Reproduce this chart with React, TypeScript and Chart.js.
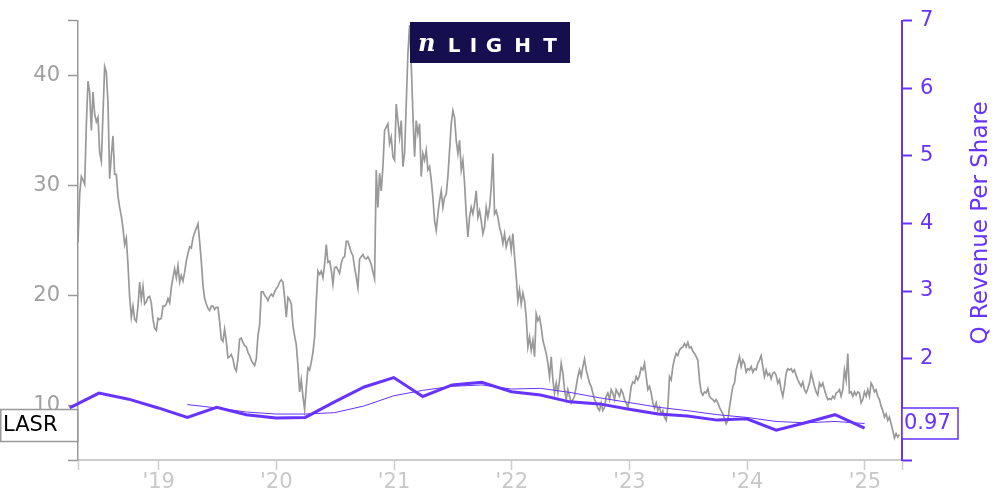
import { useEffect, useRef } from "react";
import { Chart, registerables } from "chart.js";

Chart.register(...registerables);

const FONT = "DejaVu Sans";
const PURPLE = "#6633ff";
const GRAY = "#999999";
const LIGHT = "#cccccc";

const TICKER = "LASR";
const LOGO_TEXT = "LIGHT";
const RIGHT_TITLE = "Q Revenue Per Share";

const X_START = "2018-04-26";
const X_END = "2025-04-26";
const YEAR_TICKS = [2019, 2020, 2021, 2022, 2023, 2024, 2025];
const PRICE_TICKS = [5, 10, 20, 30, 40, 45];
const REV_TICKS = [0.5, 1, 2, 3, 4, 5, 6, 7];

const revQuarters = [
  "2018-03-31", "2018-06-30", "2018-09-30", "2018-12-31",
  "2019-03-31", "2019-06-30", "2019-09-30", "2019-12-31",
  "2020-03-31", "2020-06-30", "2020-09-30", "2020-12-31",
  "2021-03-31", "2021-06-30", "2021-09-30", "2021-12-31",
  "2022-03-31", "2022-06-30", "2022-09-30", "2022-12-31",
  "2023-03-31", "2023-06-30", "2023-09-30", "2023-12-31",
  "2024-03-31", "2024-06-30", "2024-09-30", "2024-12-31",
];
const revPerShare = [
  1.27, 1.49, 1.40, 1.27, 1.13, 1.28, 1.17, 1.12,
  1.13, 1.36, 1.58, 1.72, 1.44, 1.61, 1.65, 1.51,
  1.46, 1.36, 1.33, 1.25, 1.18, 1.15, 1.09, 1.11,
  0.94, 1.05, 1.17, 0.97,
];
const revAvg4 = [
  null, null, null, null, 1.32, 1.27, 1.21, 1.18,
  1.18, 1.20, 1.30, 1.45, 1.53, 1.59, 1.61, 1.55,
  1.56, 1.50, 1.42, 1.35, 1.28, 1.23, 1.17, 1.13,
  1.07, 1.05, 1.07, 1.04,
];

const PRICE_START = "2018-04-26";
const PRICE_STEP_DAYS = 5.17;
const lasrPrice = [
  24.8, 29.2, 30.8, 30.5, 30.1, 35.5, 39.5, 38.5, 35, 38.5,
  36.5, 35.8, 36.2, 33, 32.2, 36.5, 40.8, 40.3, 37.5, 30.6,
  32.7, 34.5, 31, 31, 29, 28, 27.2, 26.1, 24.6, 25.2,
  22.8, 19.8, 18, 19, 17.8, 17.6, 19, 21.2, 19.6, 20.8,
  19.2, 19.4, 19.8, 19.9, 19.3, 17.8, 17, 16.8, 17.9, 17.8,
  17.9, 19, 19, 19.2, 19.7, 19.3, 20.7, 21.6, 22.4, 21.6,
  22.7, 21.2, 21.8, 21.3, 22.1, 23.1, 23.8, 24.4, 24.3, 25.2,
  25.7, 26.1, 26.5, 24.9, 23.1, 20.9, 19.7, 19.2, 18.8, 18.6,
  19.0, 19.0, 18.7, 18.9, 18.9, 17.6, 16.0, 15.8, 16.9, 15.8,
  14.3, 14.4, 14.6, 14.2, 13.4, 13.1, 14.2, 16, 16.1, 15.7,
  15.4,
  15.3, 14.8, 14.5, 14.1, 13.8, 13.6, 14.2, 16.3, 17.3, 20.3,
  20.3, 20.0, 19.8, 19.5, 19.9, 20.1, 19.9, 20.3, 20.6, 20.8,
  21.2, 21.4, 21.2, 19.8, 18.0, 19.8, 19.6, 19.2, 17.2, 16.3,
  15.5, 13.6, 11.2, 12.3, 10.8, 9.6, 11.6, 13.4, 13.2, 13.9,
  14.8, 16.2, 19.4, 22.2, 21.9, 22.2, 21.6, 22.8, 24.6, 23.0,
  23.1, 22.3, 21.0, 22.5, 22.6, 22.3, 22.0, 22.9, 23.4, 23.5,
  24.9, 24.9, 24.4, 23.9, 23.6, 22.5, 21.7, 20.7, 23.3, 23.5,
  23.7, 23.4, 23.3, 23.5, 23.2, 22.8, 22.1, 21.5,
  31.4, 28.0, 31.1, 29.5, 31.7, 35.0, 35.3, 35.6, 33.8, 34.4,
  32.6, 32.3, 37.4, 35.9, 34.4, 35.9, 31.7, 32.9, 37.4, 42.0,
  44.6, 41.1, 36.5, 32.6, 35.9, 34.7, 35.6, 30.8, 32.9, 32.3,
  33.2, 31.4, 31.7, 30.5, 28.9, 26.8, 25.9, 27.4, 28.6, 29.5,
  28.0, 28.9, 29.2, 30.8, 33.2, 35.6, 36.8, 36.2, 34.1, 32.9,
  34.1, 31.4, 32.3, 30.2, 27.4, 25.3, 27.1, 28.0, 27.4, 28.3,
  29.5, 27.1, 27.7, 26.8, 25.6, 26.2, 28.0, 27.1, 28.0, 29.8,
  32.9, 27.4, 27.7, 27.1, 26.2,
  25.6, 24.7, 25.6, 24.4, 25.0, 25.3, 24.1, 25.6, 23.5, 21.7,
  19.5, 20.5, 19.2, 20.2, 19.5, 18.0, 15.3, 16.2, 15.0, 15.9,
  14.4, 18.3, 17.7, 18.0, 17.1, 15.9, 15.3, 14.7, 13.8, 12.6,
  14.4, 12.3, 11.1, 12.0, 11.1, 12.3, 13.8, 12.9, 11.4, 10.5,
  11.4, 10.8, 10.2, 10.5, 10.8, 11.7, 12.6, 13.2, 12.6, 13.5,
  14.2, 13.2, 12.6, 12.0, 11.7, 11.1, 10.5, 10.2, 9.7, 9.5,
  10.2, 9.5, 9.8, 10.8, 11.1, 10.5, 11.4, 11.1, 10.5, 11.4,
  11.1, 10.8, 11.4, 11.1, 10.5, 10.2, 9.8, 10.5, 11.7, 12.1,
  12.0, 12.6, 12.3, 12.7,
  13.4, 13.2, 13.8, 12.6, 11.4, 11.7, 11.1, 10.2, 9.7, 10.2,
  9.5, 9.8, 9.2, 9.5, 8.9, 8.6, 9.8, 12.6, 12.3, 13.5,
  14.2, 14.7, 14.5, 15.0, 15.2, 15.3, 15.6, 15.3, 15.7, 15.2,
  15.3, 14.9, 14.7, 14.4, 14.1, 12.3, 11.2, 10.9, 11.2, 11.1,
  11.5, 10.8, 10.6, 10.5, 10.3, 10.5, 10.2, 9.8, 9.5, 9.2,
  8.8, 8.3, 8.6, 9.8, 10.8, 11.7, 12.0, 13.2, 13.8, 14.4,
  13.5, 14.1, 13.8, 13.0, 13.3, 13.2, 13.5, 13.0, 13.3, 13.2,
  13.8, 14.1, 14.5, 13.5, 12.6, 13.2, 12.7, 12.9, 12.4, 12.9,
  13.0, 12.7, 12.0, 12.3, 11.4, 10.8, 11.7, 12.9, 13.3, 13.2,
  13.3, 13.0, 13.2, 12.7, 12.3, 12.0, 11.7, 12.1, 11.4, 11.1,
  11.5, 12.0, 12.9, 12.3, 11.7, 11.2, 10.9, 12.0, 11.7, 12.0,
  11.4, 10.9, 10.5, 10.6, 10.5, 10.8, 10.6, 11.1, 11.2, 11.4,
  10.8, 11.4, 13.2, 12.3, 14.7, 11.1, 11.2, 10.8, 11.2, 10.9,
  11.2, 11.1, 10.2, 10.5, 11.2, 10.8, 11.4, 10.8, 12.0, 11.7,
  11.2, 11.4, 10.8, 10.5, 9.9, 9.5, 8.9, 9.2, 8.6, 8.9,
  8.3, 7.7, 7.0, 7.4, 7.1, 7.3,
];

function toYear(s: string): number {
  const [y, m, d] = s.split("-").map(Number);
  const t0 = Date.UTC(y, 0, 1);
  const t1 = Date.UTC(y + 1, 0, 1);
  return y + (Date.UTC(y, m - 1, d) - t0) / (t1 - t0);
}

const overlay = {
  id: "overlay",
  afterDraw(chart: any) {
    const ctx = chart.ctx as CanvasRenderingContext2D;
    ctx.save();

    // logo
    ctx.fillStyle = "#160f4f";
    ctx.fillRect(410, 22, 160, 41);
    ctx.fillStyle = "#ffffff";
    ctx.textBaseline = "alphabetic";
    ctx.textAlign = "left";
    ctx.font = "italic bold 24px 'DejaVu Serif'";
    ctx.fillText("n", 418, 51);
    ctx.font = `bold 20px '${FONT}'`;
    ctx.textAlign = "center";
    const letterX = [454, 473.5, 494, 522.5, 550];
    LOGO_TEXT.split("").forEach((ch, i) => ctx.fillText(ch, letterX[i], 52));

    // right axis title
    ctx.save();
    ctx.translate(981, 223);
    ctx.rotate(-Math.PI / 2);
    ctx.fillStyle = PURPLE;
    ctx.font = `23px '${FONT}'`;
    ctx.textAlign = "center";
    ctx.textBaseline = "middle";
    ctx.fillText(RIGHT_TITLE, 0, 0);
    ctx.restore();

    // ticker box
    ctx.fillStyle = "#ffffff";
    ctx.fillRect(0.75, 409.5, 77, 32);
    ctx.strokeStyle = GRAY;
    ctx.lineWidth = 1.5;
    ctx.strokeRect(0.75, 409.5, 77, 32);
    ctx.fillStyle = "#000000";
    ctx.font = `21px '${FONT}'`;
    ctx.textAlign = "left";
    ctx.textBaseline = "middle";
    ctx.fillText(TICKER, 3, 426);

    // last value box
    const last = revPerShare[revPerShare.length - 1].toFixed(2);
    ctx.fillStyle = "#ffffff";
    ctx.fillRect(902, 408, 56, 31);
    ctx.strokeStyle = PURPLE;
    ctx.lineWidth = 1.5;
    ctx.strokeRect(902, 408, 56, 31);
    ctx.fillStyle = PURPLE;
    ctx.fillText(last, 904, 424);

    ctx.restore();
  },
};

export default function App() {
  const ref = useRef<HTMLCanvasElement | null>(null);

  useEffect(() => {
    if (!ref.current) return;
    const xMin = toYear(X_START);
    const xMax = toYear(X_END);
    const p0 = toYear(PRICE_START);
    const priceData = lasrPrice.map((v, i) => ({ x: p0 + (i * PRICE_STEP_DAYS) / 365.25, y: v }));
    const revData = revQuarters.map((q, i) => ({ x: toYear(q), y: revPerShare[i] }));
    const avgData = revQuarters.map((q, i) => ({ x: toYear(q), y: revAvg4[i] }));

    const chart = new Chart(ref.current, {
      type: "line",
      data: {
        datasets: [
          {
            data: revData as any,
            yAxisID: "y2",
            borderColor: PURPLE,
            borderWidth: 3,
            pointRadius: 0,
            tension: 0,
            clip: false as any,
          },
          {
            data: avgData as any,
            yAxisID: "y2",
            borderColor: PURPLE,
            borderWidth: 1,
            pointRadius: 0,
            tension: 0,
          },
          {
            data: priceData as any,
            yAxisID: "y",
            borderColor: GRAY,
            borderWidth: 1.7,
            pointRadius: 0,
            tension: 0,
          },
        ],
      },
      options: {
        animation: false,
        responsive: false,
        devicePixelRatio: 1,
        layout: { padding: { top: 20, left: 0, right: 0, bottom: 0 } },
        plugins: { legend: { display: false }, tooltip: { enabled: false } },
        scales: {
          x: {
            type: "linear",
            min: xMin,
            max: xMax,
            afterBuildTicks: (s: any) => {
              s.ticks = [xMin, ...YEAR_TICKS, xMax].map((v) => ({ value: v }));
            },
            afterFit: (s: any) => {
              s.height = 40;
            },
            ticks: {
              autoSkip: false,
              maxRotation: 0,
              color: "#c8c8c8",
              padding: 0,
              font: { family: FONT, size: 21 },
              callback: (v: any) => (YEAR_TICKS.includes(v) ? "'" + String(v).slice(2) : ""),
            },
            grid: { drawOnChartArea: false, drawTicks: true, tickLength: 10, tickColor: LIGHT, tickWidth: 1.5 },
            border: { display: true, color: LIGHT, width: 2 },
          },
          y: {
            position: "left",
            min: 5,
            max: 45,
            afterBuildTicks: (s: any) => {
              s.ticks = PRICE_TICKS.map((v) => ({ value: v }));
            },
            afterFit: (s: any) => {
              s.width = 78;
            },
            ticks: {
              autoSkip: false,
              color: "#a0a0a0",
              padding: 8,
              font: { family: FONT, size: 21 },
              callback: (v: any) => (v === 5 || v === 45 ? "" : String(v)),
            },
            grid: { drawOnChartArea: false, drawTicks: true, tickLength: 10, tickColor: GRAY, tickWidth: 1.5 },
            border: { display: true, color: GRAY, width: 1.5 },
          },
          y2: {
            position: "right",
            min: 0.5,
            max: 7,
            afterBuildTicks: (s: any) => {
              s.ticks = REV_TICKS.map((v) => ({ value: v }));
            },
            afterFit: (s: any) => {
              s.width = 98;
            },
            ticks: {
              autoSkip: false,
              color: PURPLE,
              padding: 8,
              font: { family: FONT, size: 21 },
              callback: (v: any) => (v === 0.5 ? "" : String(v)),
            },
            grid: { drawOnChartArea: false, drawTicks: true, tickLength: 10, tickColor: PURPLE, tickWidth: 2 },
            border: { display: true, color: PURPLE, width: 2 },
          },
        },
      },
      plugins: [overlay],
    });
    return () => chart.destroy();
  }, []);

  return (
    <div style={{ position: "fixed", left: 0, top: 0, width: 1000, height: 500, background: "#fff" }}>
      <canvas ref={ref} width={1000} height={500} style={{ display: "block" }} />
    </div>
  );
}
